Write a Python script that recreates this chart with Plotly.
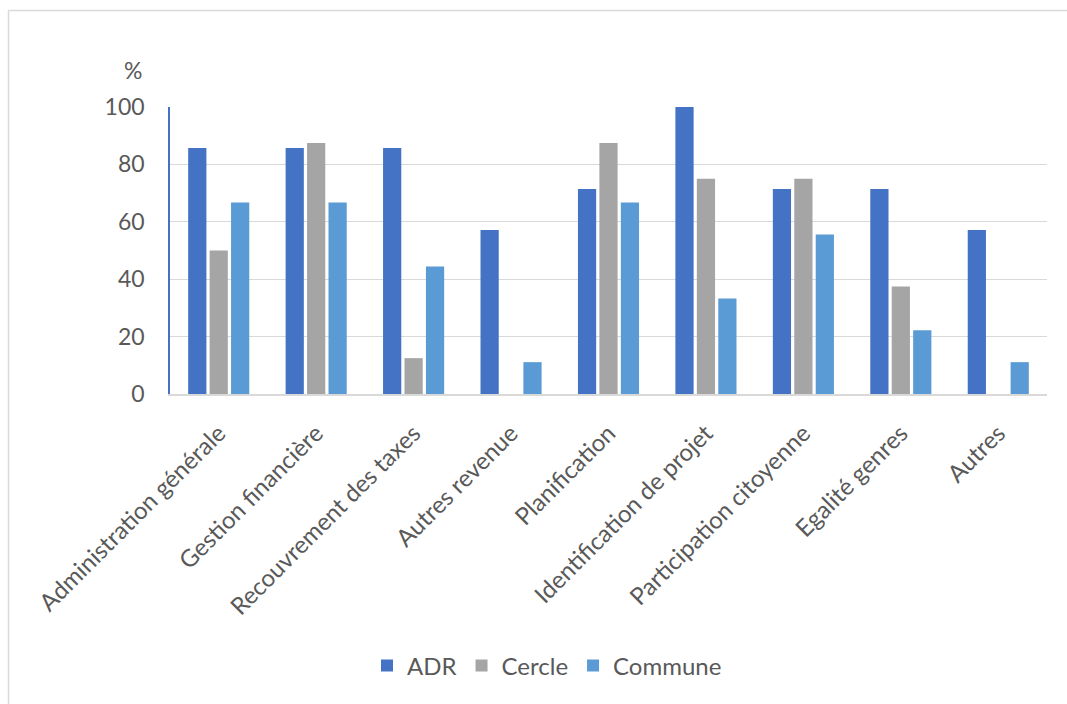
import plotly.graph_objects as go

categories = [
    "Administration générale", "Gestion financière", "Recouvrement des taxes",
    "Autres revenue", "Planification", "Identification de projet",
    "Participation citoyenne", "Egalité genres", "Autres",
]
adr = [85.7, 85.7, 85.7, 57.1, 71.4, 100.0, 71.4, 71.4, 57.1]
cercle = [50.0, 87.5, 12.5, 0.0, 87.5, 75.0, 75.0, 37.5, 0.0]
commune = [66.7, 66.7, 44.4, 11.1, 66.7, 33.3, 55.6, 22.2, 11.1]

series = [("ADR", adr, "#4472C4"), ("Cercle", cercle, "#A5A5A5"), ("Commune", commune, "#5B9BD5")]

FONT = "Lato"
TXT = "#595959"

fig = go.Figure()
for name, vals, col in series:
    fig.add_trace(go.Bar(x=categories, y=vals, name=name, marker_color=col,
                         marker_line_width=0))

W, H = 1067, 704
L, R, T, B = 170, 20, 107, 310
pw = W - L - R
ph = H - T - B

def px_x(x):
    return (x - L) / pw

def px_y(y):
    return (H - B - y) / ph

fig.update_layout(
    width=W, height=H,
    margin=dict(l=L, r=R, t=T, b=B, pad=0),
    paper_bgcolor="white", plot_bgcolor="white",
    barmode="group", bargap=0.34, bargroupgap=0.15,
    font=dict(family=FONT, color=TXT, size=22),
    showlegend=True,
    legend=dict(orientation="h", x=px_x(547), xanchor="center",
                y=px_y(666), yanchor="middle",
                font=dict(size=24, color=TXT), itemwidth=30, traceorder="normal"),
    xaxis=dict(tickangle=-45, showgrid=False, showline=True, linecolor="#D9D9D9",
               linewidth=1.5, ticks="", ticklabelstandoff=14,
               tickfont=dict(size=24, color=TXT)),
    yaxis=dict(range=[0, 100], tickvals=[0, 20, 40, 60, 80, 100],
               showgrid=True, gridcolor="#D9D9D9", gridwidth=1.2,
               showline=True, linecolor="#4472C4", linewidth=1.5,
               zeroline=False, ticks="", ticklabelstandoff=19,
               tickfont=dict(size=23, color=TXT)),
    annotations=[dict(text="%", xref="paper", yref="paper",
                      x=px_x(133), y=px_y(70), xanchor="center", yanchor="middle",
                      showarrow=False, font=dict(size=23, color=TXT))],
    shapes=[
        dict(type="line", xref="paper", yref="paper", x0=px_x(8.5), x1=px_x(1070),
             y0=px_y(10.5), y1=px_y(10.5), line=dict(color="#D9D9D9", width=1.5)),
        dict(type="line", xref="paper", yref="paper", x0=px_x(8.5), x1=px_x(8.5),
             y0=px_y(10.5), y1=px_y(710), line=dict(color="#D9D9D9", width=1.5)),
    ],
)

fig.write_html("out.html")
